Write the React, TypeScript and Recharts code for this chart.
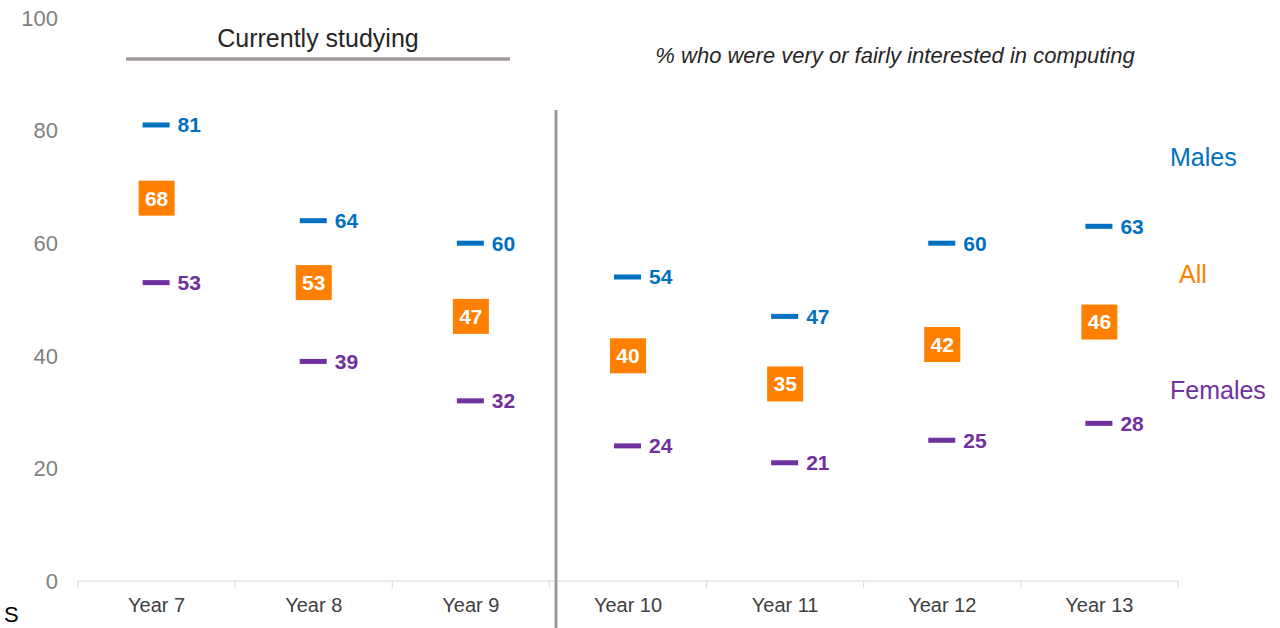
import { ComposedChart, Line, XAxis, YAxis } from "recharts";

const years = ["Year 7", "Year 8", "Year 9", "Year 10", "Year 11", "Year 12", "Year 13"];
const males = [81, 64, 60, 54, 47, 60, 63];
const all = [68, 53, 47, 40, 35, 42, 46];
const females = [53, 39, 32, 24, 21, 25, 28];
const yTicks = [0, 20, 40, 60, 80, 100];

const BLUE = "#0070C0";
const ORANGE = "#FF8000";
const PURPLE = "#7030A0";
const GREY = "#A09898";
const FONT = "'Liberation Sans', Arial, sans-serif";
const HALF_BAND = 78.6;

const data = years.map((year, i) => ({
    year,
    males: males[i],
    all: all[i],
    females: females[i],
}));

const dashDot = (color: string) => (props: any) => {
    const { cx, cy, value, index } = props;
    return (
        <g key={`${color}-${index}`}>
            <rect x={cx - 14} y={cy - 2.5} width={27} height={5} fill={color} />
            <text
                x={cx + 21}
                y={cy}
                dy=".35em"
                fill={color}
                fontSize={21}
                fontWeight="bold"
                fontFamily={FONT}
            >
                {value}
            </text>
        </g>
    );
};

const boxDot = (props: any) => {
    const { cx, cy, value, index } = props;
    return (
        <g key={`all-${index}`}>
            <rect x={cx - 18} y={cy - 17.5} width={36} height={35} fill={ORANGE} />
            <text
                x={cx}
                y={cy}
                dy=".35em"
                textAnchor="middle"
                fill="#fff"
                fontSize={21}
                fontWeight="bold"
                fontFamily={FONT}
            >
                {value}
            </text>
        </g>
    );
};

const XTick = (props: any) => {
    const { x, y, payload, index } = props;
    return (
        <g>
            <line x1={x - HALF_BAND} y1={y} x2={x - HALF_BAND} y2={y + 7} stroke="#D9D9D9" />
            {index === years.length - 1 && (
                <line x1={x + HALF_BAND} y1={y} x2={x + HALF_BAND} y2={y + 7} stroke="#D9D9D9" />
            )}
            <text
                x={x}
                y={y + 24}
                dy=".35em"
                textAnchor="middle"
                fill="#404040"
                fontSize={20}
                fontFamily={FONT}
            >
                {payload.value}
            </text>
        </g>
    );
};

export default function App() {
    return (
        <div style={{ position: "absolute", left: 0, top: 0, width: 1280, height: 628 }}>
            <ComposedChart
                width={1280}
                height={628}
                data={data}
                margin={{ top: 18, right: 102, left: 0, bottom: 0 }}
            >
                <XAxis
                    dataKey="year"
                    tick={<XTick />}
                    tickLine={false}
                    tickSize={0}
                    tickMargin={0}
                    axisLine={{ stroke: "#D9D9D9" }}
                    interval={0}
                    height={47}
                    padding={{ left: HALF_BAND, right: HALF_BAND }}
                />
                <YAxis
                    domain={[0, 100]}
                    ticks={yTicks}
                    width={78}
                    axisLine={false}
                    tickLine={false}
                    tickSize={0}
                    tickMargin={20}
                    tick={{ fill: "#7F7F7F", fontSize: 22, fontFamily: FONT }}
                />
                <Line dataKey="males" stroke="none" dot={dashDot(BLUE)} activeDot={false} isAnimationActive={false} />
                <Line dataKey="all" stroke="none" dot={boxDot} activeDot={false} isAnimationActive={false} />
                <Line dataKey="females" stroke="none" dot={dashDot(PURPLE)} activeDot={false} isAnimationActive={false} />
            </ComposedChart>
            <svg
                width={1280}
                height={628}
                style={{ position: "absolute", left: 0, top: 0, pointerEvents: "none" }}
                fontFamily={FONT}
            >
                <line x1={556} y1={110} x2={556} y2={628} stroke={GREY} strokeWidth={3} />
                <text x={318} y={47} textAnchor="middle" fontSize={25} fill="#262626">
                    Currently studying
                </text>
                <line x1={126} y1={59} x2={510} y2={59} stroke={GREY} strokeWidth={3.5} />
                <text x={895} y={63} textAnchor="middle" fontSize={22} fontStyle="italic" fill="#262626">
                    % who were very or fairly interested in computing
                </text>
                <text x={1170} y={166} fontSize={25} fill={BLUE}>Males</text>
                <text x={1179} y={283} fontSize={25} fill={ORANGE}>All</text>
                <text x={1170} y={399} fontSize={25} fill={PURPLE}>Females</text>
                <text x={4} y={622} fontSize={22} fill="#000">S</text>
            </svg>
        </div>
    );
}
